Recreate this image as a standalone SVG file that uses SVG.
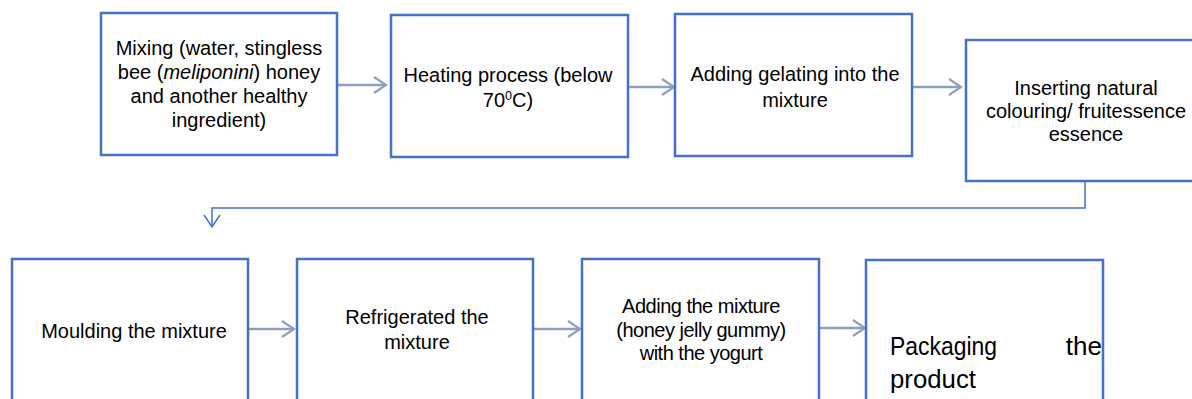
<svg xmlns="http://www.w3.org/2000/svg" width="1192" height="399" viewBox="0 0 1192 399">
<style>
.box{fill:#fff;stroke:#4472C4;stroke-width:2.5}
.t{font-family:"Liberation Sans",Arial,sans-serif;font-size:20px;fill:#000;text-anchor:middle}
.big{font-family:"Liberation Sans",Arial,sans-serif;font-size:26px;fill:#000}
.arr{fill:none;stroke:#8EA0BE;stroke-width:2.5}
.link{fill:none;stroke:#4472C4;stroke-width:1.5}
</style>
<defs>
<marker id="chev" markerUnits="userSpaceOnUse" markerWidth="16" markerHeight="20" refX="13" refY="9" orient="auto">
<path d="M1,1 L13,9 L1,17" fill="none" stroke="#8EA0BE" stroke-width="2.2"/>
</marker>
<marker id="chevb" markerUnits="userSpaceOnUse" markerWidth="16" markerHeight="20" refX="13" refY="9" orient="auto">
<path d="M1,1 L13,9 L1,17" fill="none" stroke="#4472C4" stroke-width="1.5"/>
</marker>
</defs>
<rect width="1192" height="399" fill="#fff"/>
<g id="connectors">
<line class="arr" x1="338" y1="85" x2="386" y2="85" marker-end="url(#chev)"/>
<line class="arr" x1="628" y1="87" x2="674" y2="87" marker-end="url(#chev)"/>
<line class="arr" x1="912" y1="87" x2="961" y2="87" marker-end="url(#chev)"/>
<path class="link" d="M1085,181 V208 H212 V227" marker-end="url(#chevb)"/>
<line class="arr" x1="248" y1="329" x2="294" y2="329" marker-end="url(#chev)"/>
<line class="arr" x1="533" y1="329" x2="580" y2="329" marker-end="url(#chev)"/>
<line class="arr" x1="819" y1="328" x2="865" y2="328" marker-end="url(#chev)"/>
</g>
<g id="n1">
<rect class="box" x="101" y="13" width="236" height="142"/>
<text class="t" x="219" y="55" font-size="20.5">Mixing (water, stingless</text>
<text class="t" x="219" y="79" font-size="20.5">bee (<tspan font-style="italic">meliponini</tspan>) honey</text>
<text class="t" x="219" y="103" font-size="20.5">and another healthy</text>
<text class="t" x="219" y="127" font-size="20.5">ingredient)</text>
</g>
<g id="n2">
<rect class="box" x="391" y="15" width="237" height="142"/>
<text class="t" x="508" y="82" font-size="18.8">Heating process (below</text>
<text class="t" x="508" y="107" font-size="18.8">70<tspan font-size="12.5" dy="-7">0</tspan><tspan dy="7">C)</tspan></text>
</g>
<g id="n3">
<rect class="box" x="675" y="14" width="237" height="142"/>
<text class="t" x="795" y="81">Adding gelating into the</text>
<text class="t" x="795" y="107">mixture</text>
</g>
<g id="n4">
<rect class="box" x="966" y="40" width="240" height="141"/>
<text class="t" x="1086" y="95">Inserting natural</text>
<text class="t" x="1086" y="118">colouring/ fruitessence</text>
<text class="t" x="1086" y="141">essence</text>
</g>
<g id="n5">
<rect class="box" x="12" y="259" width="236" height="150"/>
<text class="t" x="134" y="338" font-size="21.5">Moulding the mixture</text>
</g>
<g id="n6">
<rect class="box" x="297" y="259" width="236" height="150"/>
<text class="t" x="417" y="324">Refrigerated the</text>
<text class="t" x="417" y="349">mixture</text>
</g>
<g id="n7">
<rect class="box" x="582" y="259" width="237" height="150"/>
<text class="t" x="701" y="313" font-size="21" letter-spacing="-0.5">Adding the mixture</text>
<text class="t" x="701" y="337" font-size="21" letter-spacing="-0.5">(honey jelly gummy)</text>
<text class="t" x="701" y="360" font-size="21" letter-spacing="-0.5">with the yogurt</text>
</g>
<g id="n8">
<rect class="box" x="866" y="260" width="237" height="150"/>
<text class="big" x="890" y="355" textLength="107" lengthAdjust="spacingAndGlyphs">Packaging</text>
<text class="big" x="1102" y="355" text-anchor="end">the</text>
<text class="big" x="890" y="388" textLength="86" lengthAdjust="spacingAndGlyphs">product</text>
</g>
</svg>
